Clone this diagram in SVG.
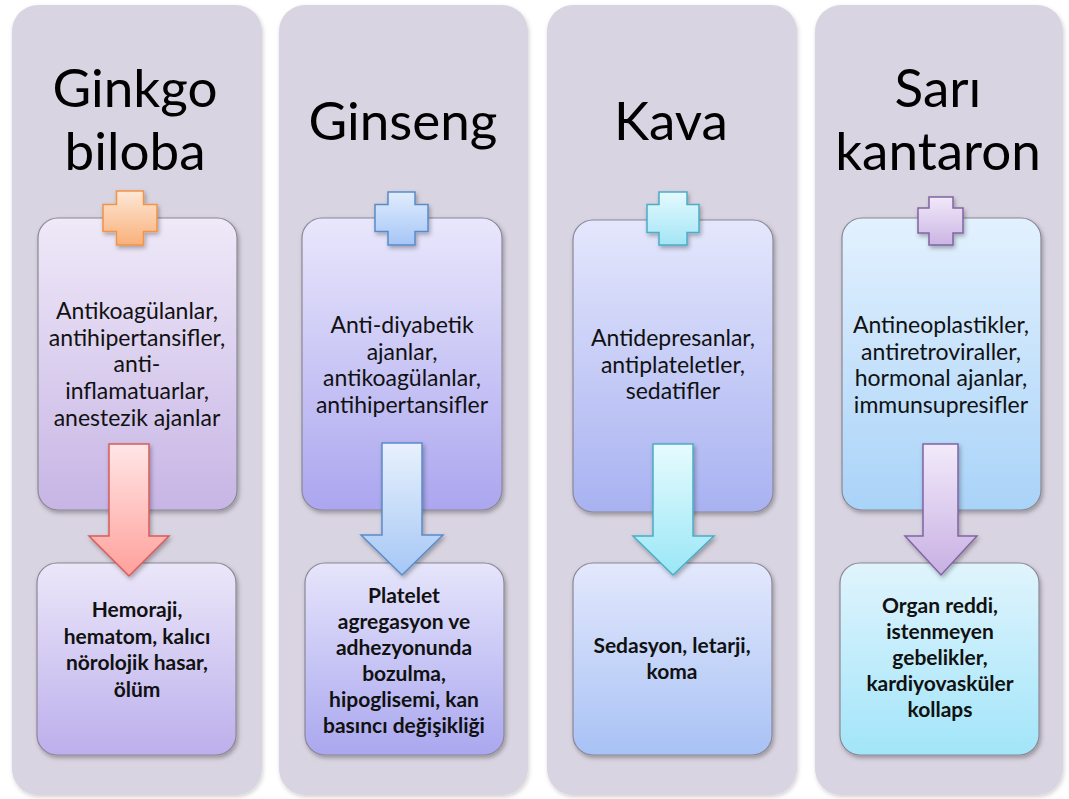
<svg xmlns="http://www.w3.org/2000/svg" width="1069" height="799" viewBox="0 0 1069 799">
<defs>
<style>
.col{fill:#d9d4e1;}
.box{stroke:#8a8796;stroke-width:1.2;}
.title{font-family:Lato,"Liberation Sans",sans-serif;font-size:53px;fill:#000;text-anchor:middle;}
.mid{font-family:Lato,"Liberation Sans",sans-serif;font-size:23px;fill:#111;text-anchor:middle;}
.bot{font-family:Lato,"Liberation Sans",sans-serif;font-size:21px;font-weight:bold;fill:#111;text-anchor:middle;}
</style>
<filter id="sh" x="-20%" y="-20%" width="140%" height="140%">
<feDropShadow dx="1.5" dy="2.5" stdDeviation="2" flood-color="#000" flood-opacity="0.3"/>
</filter>
<filter id="shc" x="-10%" y="-10%" width="120%" height="120%">
<feDropShadow dx="1" dy="2" stdDeviation="2" flood-color="#000" flood-opacity="0.18"/>
</filter>
<linearGradient id="t1" x1="0" y1="0" x2="0" y2="1"><stop offset="0" stop-color="#efe9f8"/><stop offset="1" stop-color="#c7b5e5"/></linearGradient>
<linearGradient id="b1" x1="0" y1="0" x2="0" y2="1"><stop offset="0" stop-color="#ebe7f9"/><stop offset="1" stop-color="#bcafec"/></linearGradient>
<linearGradient id="t2" x1="0" y1="0" x2="0" y2="1"><stop offset="0" stop-color="#e9e7fc"/><stop offset="1" stop-color="#aba6ef"/></linearGradient>
<linearGradient id="b2" x1="0" y1="0" x2="0" y2="1"><stop offset="0" stop-color="#e6e5fb"/><stop offset="1" stop-color="#aaa7ef"/></linearGradient>
<linearGradient id="t3" x1="0" y1="0" x2="0" y2="1"><stop offset="0" stop-color="#e4e7fc"/><stop offset="1" stop-color="#a8b2f1"/></linearGradient>
<linearGradient id="b3" x1="0" y1="0" x2="0" y2="1"><stop offset="0" stop-color="#e3e8fc"/><stop offset="1" stop-color="#a8c2f5"/></linearGradient>
<linearGradient id="t4" x1="0" y1="0" x2="0" y2="1"><stop offset="0" stop-color="#e3f1fe"/><stop offset="1" stop-color="#a9d3f8"/></linearGradient>
<linearGradient id="b4" x1="0" y1="0" x2="0" y2="1"><stop offset="0" stop-color="#e0f4fd"/><stop offset="1" stop-color="#a2e5f9"/></linearGradient>
<linearGradient id="c1" x1="0" y1="0" x2="0" y2="1"><stop offset="0" stop-color="#fde8d6"/><stop offset="1" stop-color="#f9b07a"/></linearGradient>
<linearGradient id="c2" x1="0" y1="0" x2="0" y2="1"><stop offset="0" stop-color="#e0ecfd"/><stop offset="1" stop-color="#a6c6f6"/></linearGradient>
<linearGradient id="c3" x1="0" y1="0" x2="0" y2="1"><stop offset="0" stop-color="#e4fafe"/><stop offset="1" stop-color="#a3e5f5"/></linearGradient>
<linearGradient id="c4" x1="0" y1="0" x2="0" y2="1"><stop offset="0" stop-color="#f1e9f9"/><stop offset="1" stop-color="#cbb5e4"/></linearGradient>
<linearGradient id="a1" x1="0" y1="0" x2="0" y2="1"><stop offset="0" stop-color="#ffe6e6"/><stop offset="1" stop-color="#ffa09b"/></linearGradient>
<linearGradient id="a2" x1="0" y1="0" x2="0" y2="1"><stop offset="0" stop-color="#e8f1fd"/><stop offset="1" stop-color="#a6c7f5"/></linearGradient>
<linearGradient id="a3" x1="0" y1="0" x2="0" y2="1"><stop offset="0" stop-color="#e6fbfe"/><stop offset="1" stop-color="#9ae7f6"/></linearGradient>
<linearGradient id="a4" x1="0" y1="0" x2="0" y2="1"><stop offset="0" stop-color="#f2eafa"/><stop offset="1" stop-color="#c8b0e3"/></linearGradient>
</defs>
<rect width="1069" height="799" fill="#ffffff"/>

<g id="col1">
<rect class="col" x="12" y="5" width="250" height="790" rx="26" filter="url(#shc)"/>
<text class="title" x="135" y="107">Ginkgo</text>
<text class="title" x="135" y="170">biloba</text>
<g id="col1-top">
<rect class="box" x="38" y="218" width="199" height="292" rx="20" fill="url(#t1)" filter="url(#sh)"/>
<text class="mid" x="137" y="319">Antikoagülanlar,<tspan x="137" dy="26.7">antihipertansifler,</tspan><tspan x="137" dy="26.7">anti-</tspan><tspan x="137" dy="26.7">inflamatuarlar,</tspan><tspan x="137" dy="26.7">anestezik ajanlar</tspan></text>
</g>
<path id="col1-plus" d="M116.5,191H143.5V204.5H157V231.5H143.5V245H116.5V231.5H103V204.5H116.5Z" fill="url(#c1)" stroke="#f29346" stroke-width="1.5" filter="url(#sh)"/>
<g id="col1-bottom">
<rect class="box" x="37" y="563" width="199" height="192" rx="20" fill="url(#b1)" filter="url(#sh)"/>
<text class="bot" x="137" y="617">Hemoraji,<tspan x="137" dy="26.5">hematom, kalıcı</tspan><tspan x="137" dy="26.5">nörolojik hasar,</tspan><tspan x="137" dy="26.5">ölüm</tspan></text>
</g>
</g>

<g id="col2">
<rect class="col" x="279" y="5" width="249" height="790" rx="26" filter="url(#shc)"/>
<text class="title" x="403" y="140">Ginseng</text>
<g id="col2-top">
<rect class="box" x="302" y="218" width="200" height="292" rx="20" fill="url(#t2)" filter="url(#sh)"/>
<text class="mid" x="402" y="333">Anti-diyabetik<tspan x="402" dy="26.5">ajanlar,</tspan><tspan x="402" dy="26.5">antikoagülanlar,</tspan><tspan x="402" dy="26.5">antihipertansifler</tspan></text>
</g>
<path id="col2-plus" d="M388,192H415V204.5H428V231.5H415V245H388V231.5H375V204.5H388Z" fill="url(#c2)" stroke="#5a8bc9" stroke-width="1.5" filter="url(#sh)"/>
<g id="col2-bottom">
<rect class="box" x="305" y="563" width="199" height="192" rx="20" fill="url(#b2)" filter="url(#sh)"/>
<text class="bot" x="404" y="603">Platelet<tspan x="404" dy="26">agregasyon ve</tspan><tspan x="404" dy="26">adhezyonunda</tspan><tspan x="404" dy="26">bozulma,</tspan><tspan x="404" dy="26">hipoglisemi, kan</tspan><tspan x="404" dy="26">basıncı değişikliği</tspan></text>
</g>
</g>

<g id="col3">
<rect class="col" x="547" y="5" width="250" height="790" rx="26" filter="url(#shc)"/>
<text class="title" x="671" y="140">Kava</text>
<g id="col3-top">
<rect class="box" x="573" y="220" width="200" height="292" rx="20" fill="url(#t3)" filter="url(#sh)"/>
<text class="mid" x="673" y="346">Antidepresanlar,<tspan x="673" dy="26.5">antiplateletler,</tspan><tspan x="673" dy="26.5">sedatifler</tspan></text>
</g>
<path id="col3-plus" d="M659,192H687V204.5H699V232.5H687V245H659V232.5H647V204.5H659Z" fill="url(#c3)" stroke="#4bacc6" stroke-width="1.5" filter="url(#sh)"/>
<g id="col3-bottom">
<rect class="box" x="573" y="563" width="199" height="192" rx="20" fill="url(#b3)" filter="url(#sh)"/>
<text class="bot" x="672" y="653">Sedasyon, letarji,<tspan x="672" dy="26">koma</tspan></text>
</g>
</g>

<g id="col4">
<rect class="col" x="815" y="5" width="248" height="790" rx="26" filter="url(#shc)"/>
<text class="title" x="938" y="107">Sarı</text>
<text class="title" x="938" y="170">kantaron</text>
<g id="col4-top">
<rect class="box" x="842" y="218" width="199" height="292" rx="20" fill="url(#t4)" filter="url(#sh)"/>
<text class="mid" x="941" y="333">Antineoplastikler,<tspan x="941" dy="26.5">antiretroviraller,</tspan><tspan x="941" dy="26.5">hormonal ajanlar,</tspan><tspan x="941" dy="26.5">immunsupresifler</tspan></text>
</g>
<path id="col4-plus" d="M929,197H953V208H963V233H953V245H929V233H918V208H929Z" fill="url(#c4)" stroke="#8064a2" stroke-width="1.5" filter="url(#sh)"/>
<g id="col4-bottom">
<rect class="box" x="840" y="563" width="199" height="192" rx="20" fill="url(#b4)" filter="url(#sh)"/>
<text class="bot" x="940" y="613">Organ reddi,<tspan x="940" dy="26">istenmeyen</tspan><tspan x="940" dy="26">gebelikler,</tspan><tspan x="940" dy="26">kardiyovasküler</tspan><tspan x="940" dy="26">kollaps</tspan></text>
</g>
</g>

<g id="connectors">
<path d="M109,444H149V536H169L129,576L89,536H109Z" fill="url(#a1)" stroke="#d95b5b" stroke-width="1.5" filter="url(#sh)"/>
<path d="M382,443H422V535H443L402,575L361,535H382Z" fill="url(#a2)" stroke="#5a8bc9" stroke-width="1.5" filter="url(#sh)"/>
<path d="M653,444H693V536H714L673,575L633,536H653Z" fill="url(#a3)" stroke="#4bacc6" stroke-width="1.5" filter="url(#sh)"/>
<path d="M923,444H958V536H977L941,575L905,536H923Z" fill="url(#a4)" stroke="#8064a2" stroke-width="1.5" filter="url(#sh)"/>
</g>
</svg>
